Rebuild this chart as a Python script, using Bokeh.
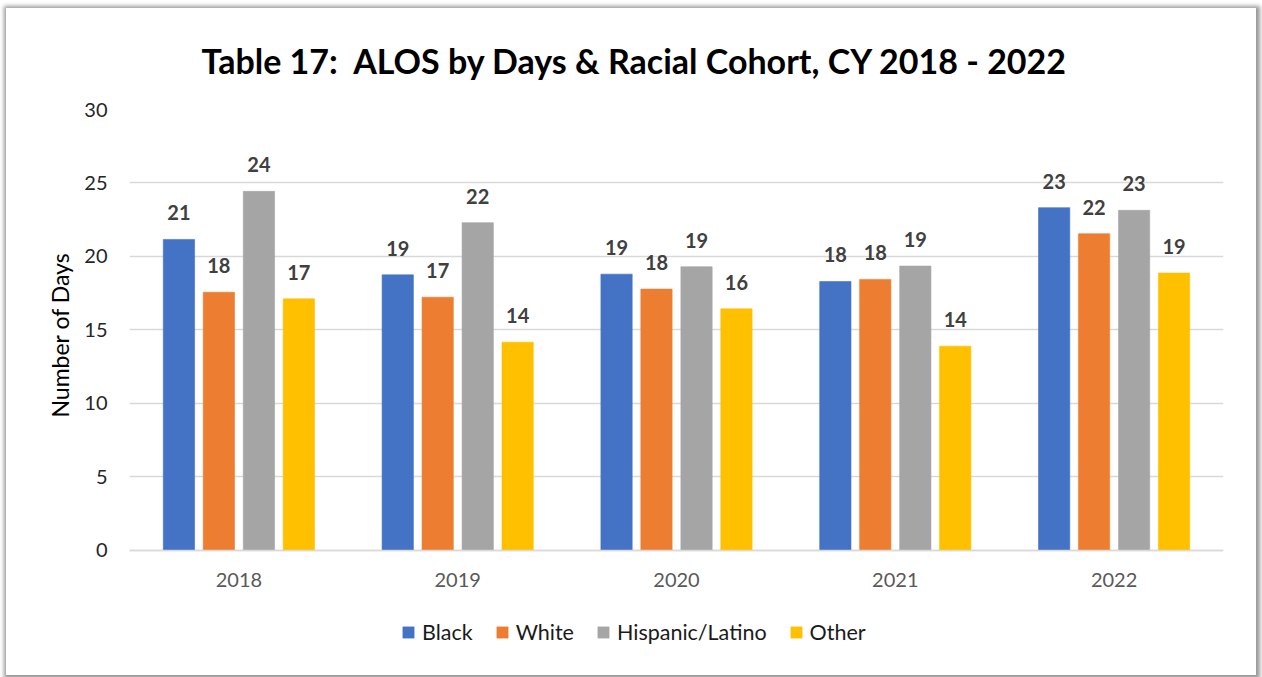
from bokeh.plotting import figure
from bokeh.models import ColumnDataSource, FactorRange, LabelSet, Legend, LegendItem, Range1d, Title
from bokeh.core.properties import value
from bokeh.transform import dodge
from bokeh.embed import file_html
from bokeh.resources import INLINE

years = ["2018", "2019", "2020", "2021", "2022"]
black = [21.16, 18.75, 18.8, 18.3, 23.32]
white = [17.57, 17.23, 17.78, 18.44, 21.55]
hispanic = [24.43, 22.3, 19.3, 19.35, 23.14]
other = [17.12, 14.17, 16.44, 13.9, 18.87]
series_names = ["Black", "White", "Hispanic/Latino", "Other"]
colors = ["#4472C4", "#ED7D31", "#A5A5A5", "#FFC000"]
offsets = [-0.274, -0.0915, 0.0915, 0.274]
y_ticks = [0, 5, 10, 15, 20, 25, 30]

data = {"year": years, "Black": black, "White": white, "Hispanic/Latino": hispanic, "Other": other}
for name in series_names:
    data[name + "_lbl"] = [str(int(round(v))) for v in data[name]]
source = ColumnDataSource(data)

FONT = "Lato"

# frame extends below zero so the legend can sit inside it; the x axis is pinned at 0
p = figure(frame_width=1094, frame_height=539, x_range=FactorRange(factors=years, range_padding=0),
           y_range=Range1d(-6.67, 30), output_backend="svg", toolbar_location=None,
           min_border_left=123, min_border_right=33, min_border_top=101, min_border_bottom=27)
p.styles = {"margin-left": "6px", "margin-top": "8px", "box-shadow": "1px 1px 4px 3px #9a9a9a"}

p.title.text = "Table 17:\u00a0 ALOS by Days & Racial Cohort, CY 2018 - 2022"
p.title.align = "left"
p.title.text_font = FONT
p.title.text_font_size = "34px"
p.title.text_font_style = "bold"
p.title.text_color = "#000000"
p.title.offset = 72
p.title.standoff = 58

renderers = []
for name, col, off in zip(series_names, colors, offsets):
    r = p.vbar(x=dodge("year", off, range=p.x_range), top=name, width=0.143, source=source,
               fill_color=col, line_color=col, line_alpha=0.6)
    renderers.append(r)
    lbl = LabelSet(x=dodge("year", off, range=p.x_range), y=name, text=name + "_lbl", source=source,
                   text_align="center", text_baseline="alphabetic", y_offset=19,
                   text_font=value(FONT), text_font_size=value("20px"), text_font_style="bold",
                   text_color="#404040")
    p.add_layout(lbl)

p.xgrid.grid_line_color = None
p.ygrid.grid_line_color = "#d9d9d9"
p.ygrid.grid_line_width = 1.5
p.outline_line_color = None

p.yaxis.ticker = y_ticks
p.yaxis.axis_line_color = None
p.yaxis.major_tick_line_color = None
p.yaxis.minor_tick_line_color = None
p.yaxis.major_label_text_font = FONT
p.yaxis.major_label_text_font_size = "20px"
p.yaxis.major_label_text_color = "#262626"
p.yaxis.major_label_standoff = 16

# y-axis title, placed beside the 0-30 part of the axis
ytitle = Title(text="Number of Days", align="left", offset=231, standoff=16,
               text_font=FONT, text_font_size="23px", text_font_style="normal", text_color="#000000")
p.add_layout(ytitle, "left")

p.xaxis.fixed_location = 0
p.xaxis.axis_line_color = "#d9d9d9"
p.xaxis.axis_line_width = 1.5
p.xaxis.major_tick_line_color = None
p.xaxis.minor_tick_line_color = None
p.xaxis.major_label_text_font = FONT
p.xaxis.major_label_text_font_size = "20px"
p.xaxis.major_label_text_color = "#595959"
p.xaxis.major_label_standoff = 17

legend = Legend(items=[LegendItem(label=n, renderers=[r]) for n, r in zip(series_names, renderers)],
                orientation="horizontal", location=(272, 3),
                label_text_font=FONT, label_text_font_size="21.5px", label_text_color="#1a1a1a",
                glyph_width=14, glyph_height=14, label_standoff=7, spacing=22,
                border_line_color=None, background_fill_alpha=0, margin=0, padding=0)
p.add_layout(legend, "center")

open("out.html", "w").write(file_html(p, INLINE))
